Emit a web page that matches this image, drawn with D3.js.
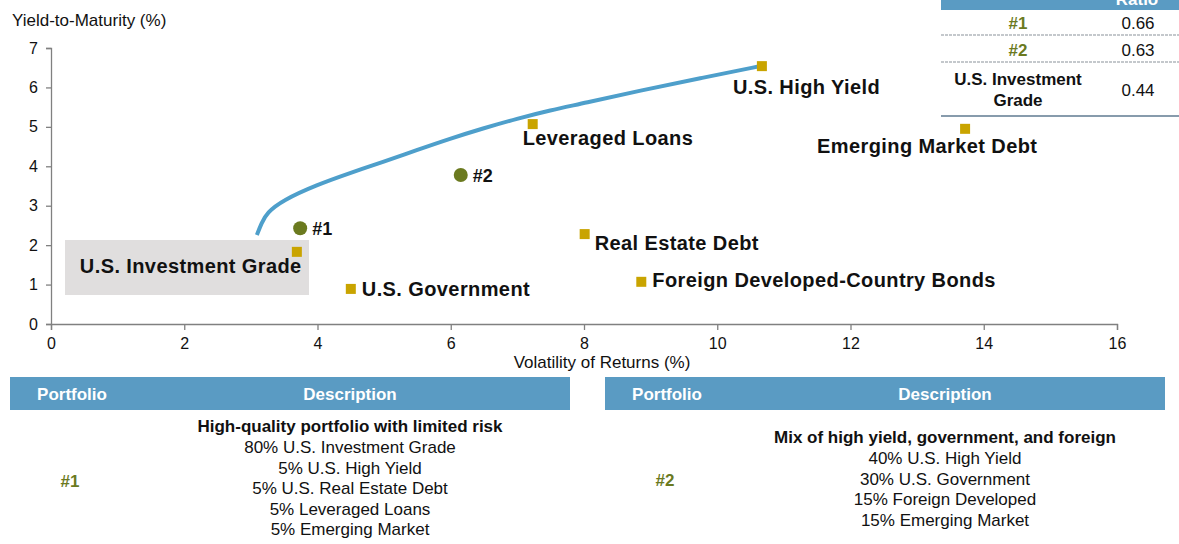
<!DOCTYPE html>
<html>
<head>
<meta charset="utf-8">
<script src="https://cdn.jsdelivr.net/npm/d3@7"></script>
<style>
  body { margin: 0; background: #fff; }
  svg { display: block; font-family: "Liberation Sans", Arial, sans-serif; }
</style>
</head>
<body>
<div id="chart"></div>
<script>
// asset classes (volatility %, yield-to-maturity %)
const assetNames = ["U.S. High Yield", "Leveraged Loans", "Emerging Market Debt", "Real Estate Debt",
    "Foreign Developed-Country Bonds", "U.S. Government", "U.S. Investment Grade"];
const assetVol = [10.67, 7.23, 13.72, 8.01, 8.86, 4.50, 3.69];
const assetYield = [6.54, 5.07, 4.95, 2.28, 1.07, 0.89, 1.83];

// sample portfolios
const portNames = ["#1", "#2"];
const portVol = [3.74, 6.15];
const portYield = [2.43, 3.78];

// efficient frontier
const frontierVol = [3.09, 3.16, 3.24, 3.48, 3.99, 4.49, 4.98, 5.49, 5.99, 6.48, 7.00, 7.49, 8.00, 8.84, 9.74, 10.67];
const frontierYield = [2.26, 2.56, 2.82, 3.14, 3.53, 3.83, 4.11, 4.41, 4.70, 4.96, 5.21, 5.42, 5.60, 5.92, 6.23, 6.55];

const xTicks = [0, 2, 4, 6, 8, 10, 12, 14, 16];
const yTicks = [0, 1, 2, 3, 4, 5, 6, 7];

// ratio table
const ratioRows = ["#1", "#2", "U.S. Investment|Grade"];
const ratioValues = ["0.66", "0.63", "0.44"];

// portfolio descriptions
const descTitles = ["High-quality portfolio with limited risk", "Mix of high yield, government, and foreign"];
const descLines = [
    ["80% U.S. Investment Grade", "5% U.S. High Yield", "5% U.S. Real Estate Debt", "5% Leveraged Loans", "5% Emerging Market"],
    ["40% U.S. High Yield", "30% U.S. Government", "15% Foreign Developed", "15% Emerging Market"]
];

const W = 1179, H = 544;
const gold = "#C9A400", olive = "#6B7A1F", blue = "#5A9BC3", lineBlue = "#4E9FCB", axisGray = "#808080";

const svg = d3.select("#chart").append("svg").attr("width", W).attr("height", H);

const x = d3.scaleLinear().domain([0, 16]).range([51, 1117]);
const y = d3.scaleLinear().domain([0, 7]).range([324, 48]);

// label offsets in pixels (layout only)
const labelPos = {
    "U.S. High Yield": [-29, 28],
    "Leveraged Loans": [-10, 21],
    "Emerging Market Debt": [-148, 24],
    "Real Estate Debt": [10, 16],
    "Foreign Developed-Country Bonds": [11, 5],
    "U.S. Government": [11, 7],
    "U.S. Investment Grade": [-217, 21]
};

// gray box behind U.S. Investment Grade
svg.append("rect")
    .attr("x", 65).attr("y", 240).attr("width", 244).attr("height", 55)
    .attr("fill", "#E0DEDE");

// axes
const xAxis = svg.append("g").attr("transform", `translate(0,${y(0)})`)
    .call(d3.axisBottom(x).tickValues(xTicks).tickSize(6).tickPadding(8).tickFormat(d3.format("d")));
const yAxis = svg.append("g").attr("transform", `translate(${x(0)},0)`)
    .call(d3.axisLeft(y).tickValues(yTicks).tickSize(5).tickPadding(8).tickFormat(d3.format("d")));
[xAxis, yAxis].forEach(a => {
    a.selectAll("path, line").attr("stroke", axisGray).attr("stroke-width", 1.3);
    a.selectAll("text").attr("font-size", 16).attr("fill", "#111")
        .attr("font-family", "'Liberation Sans', Arial, sans-serif");
});

svg.append("text").attr("x", 602).attr("y", 368).attr("text-anchor", "middle")
    .attr("font-size", 17).attr("fill", "#111").text("Volatility of Returns (%)");
svg.append("text").attr("x", 12).attr("y", 26)
    .attr("font-size", 17).attr("fill", "#111").text("Yield-to-Maturity (%)");

// frontier line
const frontier = frontierVol.map((v, i) => [v, frontierYield[i]]);
svg.append("path")
    .datum(frontier)
    .attr("fill", "none")
    .attr("stroke", lineBlue)
    .attr("stroke-width", 4)
    .attr("d", d3.line().x(d => x(d[0])).y(d => y(d[1])).curve(d3.curveBasis));

// asset squares + labels
const assets = assetNames.map((n, i) => ({ name: n, vol: assetVol[i], yld: assetYield[i] }));
svg.append("g").selectAll("rect").data(assets).enter().append("rect")
    .attr("x", d => x(d.vol) - 5).attr("y", d => y(d.yld) - 5)
    .attr("width", 10).attr("height", 10).attr("fill", gold);
svg.append("g").selectAll("text").data(assets).enter().append("text")
    .attr("x", d => x(d.vol) + labelPos[d.name][0])
    .attr("y", d => y(d.yld) + labelPos[d.name][1])
    .attr("font-size", 20).attr("font-weight", "bold").attr("fill", "#111")
    .attr("letter-spacing", 0.4)
    .text(d => d.name);

// portfolio circles + labels
const ports = portNames.map((n, i) => ({ name: n, vol: portVol[i], yld: portYield[i] }));
svg.append("g").selectAll("circle").data(ports).enter().append("circle")
    .attr("cx", d => x(d.vol)).attr("cy", d => y(d.yld)).attr("r", 7).attr("fill", olive);
svg.append("g").selectAll("text").data(ports).enter().append("text")
    .attr("x", d => x(d.vol) + 12).attr("y", d => y(d.yld) + 7)
    .attr("font-size", 18).attr("font-weight", "bold").attr("fill", "#111")
    .text(d => d.name);

// ratio table (top right, header cut off at the page edge)
const rt = svg.append("g");
rt.append("rect").attr("x", 941).attr("y", 0).attr("width", W - 941).attr("height", 10).attr("fill", blue);
rt.append("text").attr("x", 1137).attr("y", 5).attr("text-anchor", "middle")
    .attr("font-size", 17).attr("font-weight", "bold").attr("fill", "#fff").text("Ratio");
const rowY = [29, 56, 96];
ratioRows.forEach((r, i) => {
    const parts = r.split("|");
    const t = rt.append("text").attr("x", 1018).attr("text-anchor", "middle")
        .attr("font-size", 17).attr("font-weight", "bold")
        .attr("fill", i < 2 ? olive : "#111");
    if (parts.length === 1) {
        t.attr("y", rowY[i]).text(r);
    } else {
        parts.forEach((p, k) => t.append("tspan").attr("x", 1018).attr("y", rowY[i] - 11 + k * 21).text(p));
    }
    rt.append("text").attr("x", 1138).attr("y", rowY[i]).attr("text-anchor", "middle")
        .attr("font-size", 17).attr("fill", "#111").text(ratioValues[i]);
});
[35, 62].forEach(ly => rt.append("line").attr("x1", 941).attr("x2", W).attr("y1", ly).attr("y2", ly)
    .attr("stroke", "#8A9299").attr("stroke-width", 1.2).attr("stroke-dasharray", "3,1"));
rt.append("line").attr("x1", 941).attr("x2", W).attr("y1", 116).attr("y2", 116)
    .attr("stroke", "#5F7A90").attr("stroke-width", 1.5);

// description tables
const tables = [
    { x0: 10, x1: 570, pCx: 72, dCx: 350, titleY: 432, labelY: 487 },
    { x0: 605, x1: 1165, pCx: 667, dCx: 945, titleY: 443, labelY: 486 }
];
tables.forEach((tb, i) => {
    const g = svg.append("g");
    g.append("rect").attr("x", tb.x0).attr("y", 377).attr("width", tb.x1 - tb.x0).attr("height", 33).attr("fill", blue);
    g.append("text").attr("x", tb.pCx).attr("y", 400).attr("text-anchor", "middle")
        .attr("font-size", 17).attr("font-weight", "bold").attr("fill", "#fff").text("Portfolio");
    g.append("text").attr("x", tb.dCx).attr("y", 400).attr("text-anchor", "middle")
        .attr("font-size", 17).attr("font-weight", "bold").attr("fill", "#fff").text("Description");
    g.append("text").attr("x", tb.pCx - 2).attr("y", tb.labelY).attr("text-anchor", "middle")
        .attr("font-size", 17).attr("font-weight", "bold").attr("fill", olive).text(portNames[i]);
    g.append("text").attr("x", tb.dCx).attr("y", tb.titleY).attr("text-anchor", "middle")
        .attr("font-size", 17).attr("font-weight", "bold").attr("fill", "#111").text(descTitles[i]);
    descLines[i].forEach((l, k) => g.append("text").attr("x", tb.dCx).attr("y", tb.titleY + 21 + k * 20.6)
        .attr("text-anchor", "middle").attr("font-size", 17).attr("fill", "#111").text(l));
});
</script>
</body>
</html>
